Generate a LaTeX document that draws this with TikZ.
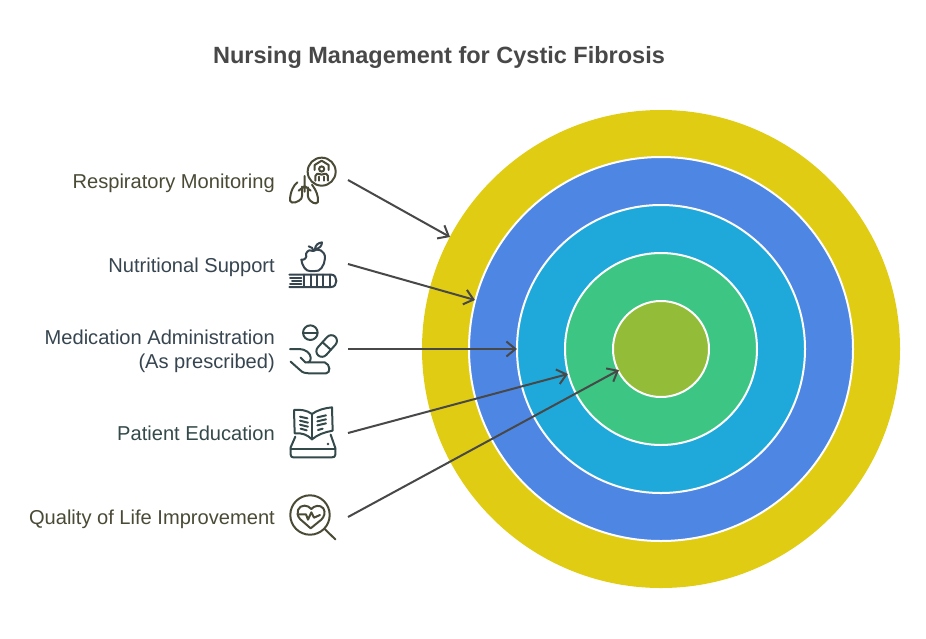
\documentclass[tikz,border=0pt]{standalone}
\usepackage{fontspec}
\setmainfont{Liberation Sans}
\usetikzlibrary{arrows.meta}
\definecolor{cyel}{HTML}{E0CC12}
\definecolor{cblu}{HTML}{4E86E4}
\definecolor{ccya}{HTML}{1EA9DA}
\definecolor{cgre}{HTML}{3CC583}
\definecolor{colv}{HTML}{93BC38}
\definecolor{cline}{HTML}{484848}
\definecolor{tolive}{HTML}{4A4A36}
\definecolor{tslate}{HTML}{36454F}
\definecolor{tteal}{HTML}{34494A}
\tikzset{
 ring/.style={circle,draw=white,line width=2pt,inner sep=0pt,outer sep=0pt,minimum size=#1},
 lab/.style={anchor=base east,align=right,font=\fontsize{20.1}{24}\selectfont,inner sep=0pt},
 conn/.style={draw=cline,line width=2pt,-{Straight Barb[length=9pt,width=15pt,line width=2pt]}},
 ico/.style={line width=2pt,line cap=round,line join=round,fill=none},
}
\begin{document}
\begin{tikzpicture}[x=1pt,y=-1pt]
\useasboundingbox (0,0) rectangle (926,638);
\fill[white] (0,0) rectangle (926,638);
\node[anchor=center,inner sep=0pt,text=cline,font=\bfseries\fontsize{23.5}{28}\selectfont] (title) at (439,57) {Nursing Management for Cystic Fibrosis};
\node[circle,fill=cyel,inner sep=0pt,outer sep=0pt,minimum size=478pt] (r1) at (661,349) {};
\node[ring=384pt,fill=cblu] (r2) at (661,349) {};
\node[ring=288pt,fill=ccya] (r3) at (661,349) {};
\node[ring=192pt,fill=cgre] (r4) at (661,349) {};
\node[ring=96pt,fill=colv] (r5) at (661,349) {};
\node[lab,text=tolive] (l1) at (275,188) {Respiratory Monitoring};
\node[lab,text=tslate] (l2) at (275,272) {Nutritional Support};
\node[lab,text=tslate] (l3) at (275,368) {Medication Administration\\(As prescribed)};
\node[lab,text=tteal] (l4) at (275,440) {Patient Education};
\node[lab,text=tolive] (l5) at (275,524) {Quality of Life Improvement};
\coordinate (s1) at (348,180); \coordinate (e1) at (450,237);
\coordinate (s2) at (348,264); \coordinate (e2) at (475,300);
\coordinate (s3) at (348,349); \coordinate (e3) at (517,349);
\coordinate (s4) at (348,433); \coordinate (e4) at (568,374);
\coordinate (s5) at (348,517); \coordinate (e5) at (619,370);
\foreach \i in {1,...,5} \draw[conn] (s\i) -- (e\i);
% lungs + circle
\begin{scope}[shift={(280,150)},x=0.3333pt,y=-0.3333pt,ico,draw=tolive]
\draw (125,65) circle (14pt);
\draw (125,32) -- (146,45) -- (146,60) (125,32) -- (104,45) -- (104,60);
\draw (125,57) circle (2.6pt);
\draw (106,92) -- (106,78) .. controls (106,70) and (114,70) .. (125,74) .. controls (136,70) and (144,70) .. (144,78) -- (144,92);
\draw (118,92) -- (118,80) (132,92) -- (132,80);
\draw (74,78) -- (74,125) (74,108) -- (56,122) (74,108) -- (92,122);
\draw (52,97) .. controls (42,104) and (30,125) .. (30,152) .. controls (34,164) and (56,156) .. (64,146) .. controls (68,136) and (66,120) .. (66,110);
\draw (84,112) .. controls (84,125) and (82,138) .. (86,146) .. controls (92,156) and (108,166) .. (114,156) .. controls (116,138) and (108,120) .. (96,104);
\end{scope}
% apple + book
\begin{scope}[shift={(280,235)},x=0.3333pt,y=-0.3333pt,ico,draw=tslate]
\draw (100,48) .. controls (112,38) and (136,46) .. (135,70) .. controls (134,92) and (118,112) .. (106,108) .. controls (100,106) and (96,106) .. (90,108) .. controls (78,110) and (66,92) .. (64,74) .. controls (74,76) and (82,68) .. (78,56) .. controls (84,44) and (92,44) .. (100,48) -- cycle;
\draw (100,46) .. controls (100,40) and (94,36) .. (86,34);
\draw (105,42) .. controls (106,30) and (114,24) .. (126,22) .. controls (126,32) and (118,42) .. (105,42) -- cycle;
\draw (28,119) -- (154,119) .. controls (174,119) and (174,156) .. (154,156) -- (28,156);
\draw (30,129) -- (64,129) (36,138) -- (64,138) (30,147) -- (64,147);
\draw (72,119) -- (72,156) (92,119) -- (92,156) (112,119) -- (112,156) (130,119) -- (130,156) (150,119) -- (150,156);
\end{scope}
% pills + hand
\begin{scope}[shift={(280,315)},x=0.3333pt,y=-0.3333pt,ico,draw=tteal]
\draw (91,53) circle (7.3pt);
\draw (70,53) -- (112,53);
\draw[rounded corners=5.8pt,rotate around={48:(140,93)}] (102,76) rectangle (178,110);
\draw[rotate around={48:(140,93)}] (140,76) -- (140,110);
\draw (30,102) -- (58,102) .. controls (76,102) and (92,115) .. (92,128) .. controls (92,138) and (88,142) .. (84,142) (62,128) -- (76,142);
\draw (32,140) -- (60,165) .. controls (68,173) and (76,175) .. (86,175) -- (138,175) .. controls (152,175) and (152,148) .. (134,142) -- (76,142);
\end{scope}
% book
\begin{scope}[shift={(280,400)},x=0.3333pt,y=-0.3333pt,ico,draw=tteal]
\draw (96,42) .. controls (80,30) and (60,28) .. (42,30) -- (44,100) .. controls (65,98) and (82,104) .. (96,118);
\draw (96,42) .. controls (112,30) and (135,24) .. (156,22) -- (158,92) .. controls (135,96) and (112,104) .. (96,118);
\draw (96,42) -- (96,118);
\draw (60,50) -- (82,55) (60,62) -- (84,68) (60,74) -- (84,80) (62,86) -- (80,91);
\draw (112,52) -- (138,46) (112,64) -- (138,58) (112,76) -- (138,70) (114,90) -- (128,86);
\draw (46,110) -- (32,142) -- (32,164) .. controls (32,170) and (36,172) .. (40,172) -- (156,172) .. controls (162,172) and (166,170) .. (166,164) -- (166,144) -- (152,104);
\draw (32,146) -- (166,146);
\fill[tteal] (144,132) circle (1.4pt);
\end{scope}
% magnifier heart
\begin{scope}[shift={(280,485)},x=0.3333pt,y=-0.3333pt,ico,draw=tolive]
\draw (90,90) circle (19.7pt);
\draw (134,132) -- (166,163);
\draw (92,130) -- (60,102) .. controls (44,84) and (56,60) .. (74,62) .. controls (82,62) and (88,66) .. (94,72) .. controls (102,62) and (120,58) .. (130,70) .. controls (138,82) and (132,96) .. (124,104) -- cycle;
\draw (56,88) -- (78,88) -- (84,104) -- (94,82) -- (102,98) -- (120,90);
\end{scope}
\end{tikzpicture}
\end{document}
